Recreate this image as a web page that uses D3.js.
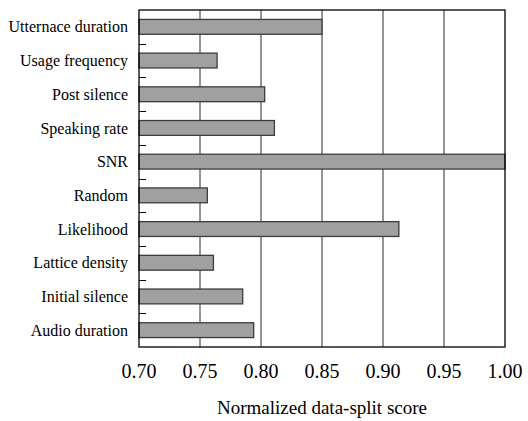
<!DOCTYPE html>
<html><head><meta charset="utf-8">
<script src="https://cdn.jsdelivr.net/npm/d3@7"></script>
<style>body{margin:0;background:#fff}svg{display:block}text{font-family:"Liberation Serif","Times New Roman",serif}</style>
</head><body>
<svg id="c" width="528" height="421"></svg>
<script>
const categories = ["Utternace duration","Usage frequency","Post silence","Speaking rate","SNR","Random","Likelihood","Lattice density","Initial silence","Audio duration"];
const scores = [0.850,0.764,0.803,0.811,1.000,0.756,0.913,0.761,0.785,0.794];
const xTicks = [0.70,0.75,0.80,0.85,0.90,0.95,1.00];
const xLabel = "Normalized data-split score";

const svg = d3.select("#c");
const m = {l:139, r:505, t:10, b:347};
const x = d3.scaleLinear().domain([0.70,1.00]).range([m.l,m.r]);
const y = d3.scaleBand().domain(categories).range([m.t,m.b]).paddingInner(0.56).paddingOuter(0.28);
const yb = d3.scaleBand().domain(categories).range([m.t,m.b]);

// grid
svg.append("g").selectAll("line").data(xTicks.slice(1,-1)).join("line")
  .attr("x1",d=>x(d)).attr("x2",d=>x(d)).attr("y1",m.t).attr("y2",m.b)
  .attr("stroke","#2a2a2a").attr("stroke-width",1);

// y inner ticks at band boundaries
svg.append("g").selectAll("line").data(categories.slice(1)).join("line")
  .attr("x1",m.l).attr("x2",m.l+7).attr("y1",d=>Math.round(yb(d))+0.5).attr("y2",d=>Math.round(yb(d))+0.5)
  .attr("stroke","#000").attr("stroke-width",1);

// bars
svg.append("g").selectAll("rect").data(categories).join("rect")
  .attr("x",x(0.70)).attr("y",d=>y(d))
  .attr("width",(d,i)=>x(scores[i])-x(0.70)).attr("height",y.bandwidth())
  .attr("fill","#a0a0a0").attr("stroke","#3c3c3c").attr("stroke-width",1.3);

// frame
svg.append("rect").attr("x",m.l).attr("y",m.t).attr("width",m.r-m.l).attr("height",m.b-m.t)
  .attr("fill","none").attr("stroke","#000").attr("stroke-width",1.3);

// category labels
svg.append("g").selectAll("text").data(categories).join("text")
  .attr("x",m.l-11).attr("y",d=>yb(d)+yb.bandwidth()/2).attr("dy","0.35em")
  .attr("text-anchor","end").attr("font-size",16)
  .attr("fill","#000").text(d=>d);

// x tick labels
svg.append("g").selectAll("text").data(xTicks).join("text")
  .attr("x",d=>x(d)).attr("y",378).attr("text-anchor","middle")
  .attr("font-size",20).attr("fill","#000")
  .text(d=>d.toFixed(2));

svg.append("text").attr("x",(m.l+m.r)/2).attr("y",414).attr("text-anchor","middle")
  .attr("font-size",19).attr("fill","#000").text(xLabel);
</script>
</body></html>
